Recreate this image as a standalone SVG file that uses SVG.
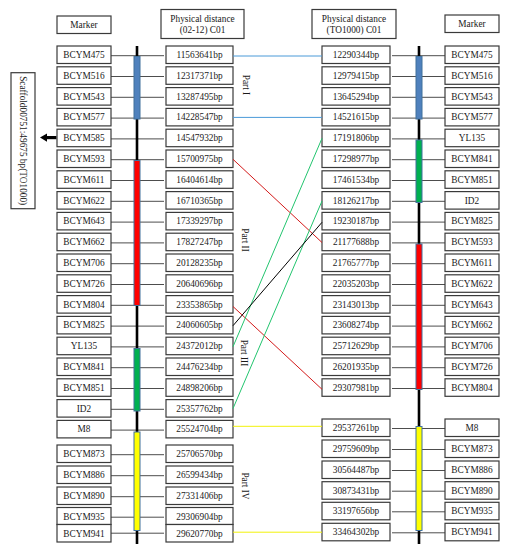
<svg xmlns="http://www.w3.org/2000/svg" width="509" height="550" viewBox="0 0 509 550">
<style>
.bx{fill:#fff;stroke:#3a3a3a;stroke-width:1.2}
.t{font-family:"Liberation Serif","Times New Roman",serif;font-size:9.3px;fill:#1a1a1a;text-anchor:middle}
.tick{stroke:#4d4d4d;stroke-width:1}
.chr{stroke:#000;stroke-width:2.6}
.seg{stroke:#41719C;stroke-width:1}
.c{fill:none;stroke-width:1}
</style>
<rect width="509" height="550" fill="#fff"/>

<g id="headers">
  <rect class="bx" x="57" y="16" width="54" height="17.5"/>
  <text class="t" x="84" y="27.9">Marker</text>
  <rect class="bx" x="161" y="9.5" width="83" height="29"/>
  <text class="t" x="202.5" y="21.5">Physical distance</text>
  <text class="t" x="202.5" y="32.5">(02-12) C01</text>
  <rect class="bx" x="312" y="9.5" width="84" height="29"/>
  <text class="t" x="354" y="21.5">Physical distance</text>
  <text class="t" x="354" y="32.5">(TO1000) C01</text>
  <rect class="bx" x="445" y="15" width="54" height="17.5"/>
  <text class="t" x="472" y="26.9">Marker</text>
</g>

<g id="scaffold">
  <rect class="bx" x="11" y="72.7" width="24" height="136"/>
  <text class="t" transform="translate(20,140.7) rotate(90)">Scaffold00751:49675 bp(TO1000)</text>
  <rect x="45" y="136" width="11.5" height="3.2" fill="#000"/>
  <polygon points="40,137.6 47,133.4 47,141.8" fill="#000"/>
</g>

<g id="left-ticks">
  <line class="tick" x1="111" y1="55.7" x2="164" y2="55.7"/>
  <line class="tick" x1="111" y1="76.5" x2="164" y2="76.5"/>
  <line class="tick" x1="111" y1="97.3" x2="164" y2="97.3"/>
  <line class="tick" x1="111" y1="118.1" x2="164" y2="118.1"/>
  <line class="tick" x1="111" y1="138.9" x2="164" y2="138.9"/>
  <line class="tick" x1="111" y1="159.7" x2="164" y2="159.7"/>
  <line class="tick" x1="111" y1="180.5" x2="164" y2="180.5"/>
  <line class="tick" x1="111" y1="201.3" x2="164" y2="201.3"/>
  <line class="tick" x1="111" y1="222.1" x2="164" y2="222.1"/>
  <line class="tick" x1="111" y1="242.9" x2="164" y2="242.9"/>
  <line class="tick" x1="111" y1="263.7" x2="164" y2="263.7"/>
  <line class="tick" x1="111" y1="284.5" x2="164" y2="284.5"/>
  <line class="tick" x1="111" y1="305.3" x2="164" y2="305.3"/>
  <line class="tick" x1="111" y1="326.1" x2="164" y2="326.1"/>
  <line class="tick" x1="111" y1="346.9" x2="164" y2="346.9"/>
  <line class="tick" x1="111" y1="367.7" x2="164" y2="367.7"/>
  <line class="tick" x1="111" y1="388.5" x2="164" y2="388.5"/>
  <line class="tick" x1="111" y1="409.3" x2="164" y2="409.3"/>
  <line class="tick" x1="111" y1="430.1" x2="164" y2="430.1"/>
  <line class="tick" x1="111" y1="454.7" x2="164" y2="454.7"/>
  <line class="tick" x1="111" y1="475.7" x2="164" y2="475.7"/>
  <line class="tick" x1="111" y1="496.7" x2="164" y2="496.7"/>
  <line class="tick" x1="111" y1="517.2" x2="164" y2="517.2"/>
  <line class="tick" x1="111" y1="533.2" x2="164" y2="533.2"/>
</g>

<g id="right-ticks">
  <line class="tick" x1="392" y1="55.7" x2="445" y2="55.7"/>
  <line class="tick" x1="392" y1="76.5" x2="445" y2="76.5"/>
  <line class="tick" x1="392" y1="97.3" x2="445" y2="97.3"/>
  <line class="tick" x1="392" y1="118.1" x2="445" y2="118.1"/>
  <line class="tick" x1="392" y1="138.9" x2="445" y2="138.9"/>
  <line class="tick" x1="392" y1="159.7" x2="445" y2="159.7"/>
  <line class="tick" x1="392" y1="180.5" x2="445" y2="180.5"/>
  <line class="tick" x1="392" y1="201.3" x2="445" y2="201.3"/>
  <line class="tick" x1="392" y1="222.1" x2="445" y2="222.1"/>
  <line class="tick" x1="392" y1="242.9" x2="445" y2="242.9"/>
  <line class="tick" x1="392" y1="263.7" x2="445" y2="263.7"/>
  <line class="tick" x1="392" y1="284.5" x2="445" y2="284.5"/>
  <line class="tick" x1="392" y1="305.3" x2="445" y2="305.3"/>
  <line class="tick" x1="392" y1="326.1" x2="445" y2="326.1"/>
  <line class="tick" x1="392" y1="346.9" x2="445" y2="346.9"/>
  <line class="tick" x1="392" y1="367.7" x2="445" y2="367.7"/>
  <line class="tick" x1="392" y1="388.5" x2="445" y2="388.5"/>
  <line class="tick" x1="392" y1="428.5" x2="445" y2="428.5"/>
  <line class="tick" x1="392" y1="449.5" x2="445" y2="449.5"/>
  <line class="tick" x1="392" y1="470.5" x2="445" y2="470.5"/>
  <line class="tick" x1="392" y1="491.2" x2="445" y2="491.2"/>
  <line class="tick" x1="392" y1="511.8" x2="445" y2="511.8"/>
  <line class="tick" x1="392" y1="532.8" x2="445" y2="532.8"/>
</g>

<g id="left-chromosome">
  <line class="chr" x1="137" y1="46" x2="137" y2="544"/>
  <rect class="seg" x="134" y="56.5" width="6" height="62.5" fill="#4F81BD"/>
  <rect class="seg" x="134" y="160.5" width="6" height="145" fill="#FF0000"/>
  <rect class="seg" x="134" y="348.5" width="6" height="62.5" fill="#00B050"/>
  <rect class="seg" x="134" y="432" width="6" height="98.5" fill="#FFFF00"/>
</g>

<g id="right-chromosome">
  <line class="chr" x1="419" y1="46" x2="419" y2="544"/>
  <rect class="seg" x="416" y="56.5" width="6" height="62.5" fill="#4F81BD"/>
  <rect class="seg" x="416" y="140" width="6" height="62.5" fill="#00B050"/>
  <rect class="seg" x="416" y="244" width="6" height="145.5" fill="#FF0000"/>
  <rect class="seg" x="416" y="426.5" width="6" height="104" fill="#FFFF00"/>
</g>

<g id="left-markers">
  <g id="lm-BCYM475"><rect class="bx" x="57" y="46" width="54" height="17.5"/><text class="t" x="84" y="58">BCYM475</text></g>
  <g id="lm-BCYM516"><rect class="bx" x="57" y="66.8" width="54" height="17.5"/><text class="t" x="84" y="78.8">BCYM516</text></g>
  <g id="lm-BCYM543"><rect class="bx" x="57" y="87.6" width="54" height="17.5"/><text class="t" x="84" y="99.6">BCYM543</text></g>
  <g id="lm-BCYM577"><rect class="bx" x="57" y="108.4" width="54" height="17.5"/><text class="t" x="84" y="120.4">BCYM577</text></g>
  <g id="lm-BCYM585"><rect class="bx" x="57" y="129.2" width="54" height="17.5"/><text class="t" x="84" y="141.2">BCYM585</text></g>
  <g id="lm-BCYM593"><rect class="bx" x="57" y="150" width="54" height="17.5"/><text class="t" x="84" y="162">BCYM593</text></g>
  <g id="lm-BCYM611"><rect class="bx" x="57" y="170.8" width="54" height="17.5"/><text class="t" x="84" y="182.8">BCYM611</text></g>
  <g id="lm-BCYM622"><rect class="bx" x="57" y="191.6" width="54" height="17.5"/><text class="t" x="84" y="203.6">BCYM622</text></g>
  <g id="lm-BCYM643"><rect class="bx" x="57" y="212.4" width="54" height="17.5"/><text class="t" x="84" y="224.4">BCYM643</text></g>
  <g id="lm-BCYM662"><rect class="bx" x="57" y="233.2" width="54" height="17.5"/><text class="t" x="84" y="245.2">BCYM662</text></g>
  <g id="lm-BCYM706"><rect class="bx" x="57" y="254" width="54" height="17.5"/><text class="t" x="84" y="266">BCYM706</text></g>
  <g id="lm-BCYM726"><rect class="bx" x="57" y="274.8" width="54" height="17.5"/><text class="t" x="84" y="286.8">BCYM726</text></g>
  <g id="lm-BCYM804"><rect class="bx" x="57" y="295.6" width="54" height="17.5"/><text class="t" x="84" y="307.6">BCYM804</text></g>
  <g id="lm-BCYM825"><rect class="bx" x="57" y="316.4" width="54" height="17.5"/><text class="t" x="84" y="328.4">BCYM825</text></g>
  <g id="lm-YL135"><rect class="bx" x="57" y="337.2" width="54" height="17.5"/><text class="t" x="84" y="349.2">YL135</text></g>
  <g id="lm-BCYM841"><rect class="bx" x="57" y="358" width="54" height="17.5"/><text class="t" x="84" y="370">BCYM841</text></g>
  <g id="lm-BCYM851"><rect class="bx" x="57" y="378.8" width="54" height="17.5"/><text class="t" x="84" y="390.8">BCYM851</text></g>
  <g id="lm-ID2"><rect class="bx" x="57" y="399.6" width="54" height="17.5"/><text class="t" x="84" y="411.6">ID2</text></g>
  <g id="lm-M8"><rect class="bx" x="57" y="420.4" width="54" height="17.5"/><text class="t" x="84" y="432.4">M8</text></g>
  <g id="lm-BCYM873"><rect class="bx" x="57" y="445" width="54" height="17.5"/><text class="t" x="84" y="457">BCYM873</text></g>
  <g id="lm-BCYM886"><rect class="bx" x="57" y="466" width="54" height="17.5"/><text class="t" x="84" y="478">BCYM886</text></g>
  <g id="lm-BCYM890"><rect class="bx" x="57" y="487" width="54" height="17.5"/><text class="t" x="84" y="499">BCYM890</text></g>
  <g id="lm-BCYM935"><rect class="bx" x="57" y="507.5" width="54" height="17"/><text class="t" x="84" y="519.5">BCYM935</text></g>
  <g id="lm-BCYM941"><rect class="bx" x="57" y="524.5" width="54" height="17.5"/><text class="t" x="84" y="536.5">BCYM941</text></g>
</g>

<g id="left-distances">
  <g id="ld-0"><rect class="bx" x="166" y="46" width="67" height="17.5"/><text class="t" x="199.5" y="58">11563641bp</text></g>
  <g id="ld-1"><rect class="bx" x="166" y="66.8" width="67" height="17.5"/><text class="t" x="199.5" y="78.8">12317371bp</text></g>
  <g id="ld-2"><rect class="bx" x="166" y="87.6" width="67" height="17.5"/><text class="t" x="199.5" y="99.6">13287495bp</text></g>
  <g id="ld-3"><rect class="bx" x="166" y="108.4" width="67" height="17.5"/><text class="t" x="199.5" y="120.4">14228547bp</text></g>
  <g id="ld-4"><rect class="bx" x="166" y="129.2" width="67" height="17.5"/><text class="t" x="199.5" y="141.2">14547932bp</text></g>
  <g id="ld-5"><rect class="bx" x="166" y="150" width="67" height="17.5"/><text class="t" x="199.5" y="162">15700975bp</text></g>
  <g id="ld-6"><rect class="bx" x="166" y="170.8" width="67" height="17.5"/><text class="t" x="199.5" y="182.8">16404614bp</text></g>
  <g id="ld-7"><rect class="bx" x="166" y="191.6" width="67" height="17.5"/><text class="t" x="199.5" y="203.6">16710365bp</text></g>
  <g id="ld-8"><rect class="bx" x="166" y="212.4" width="67" height="17.5"/><text class="t" x="199.5" y="224.4">17339297bp</text></g>
  <g id="ld-9"><rect class="bx" x="166" y="233.2" width="67" height="17.5"/><text class="t" x="199.5" y="245.2">17827247bp</text></g>
  <g id="ld-10"><rect class="bx" x="166" y="254" width="67" height="17.5"/><text class="t" x="199.5" y="266">20128235bp</text></g>
  <g id="ld-11"><rect class="bx" x="166" y="274.8" width="67" height="17.5"/><text class="t" x="199.5" y="286.8">20640696bp</text></g>
  <g id="ld-12"><rect class="bx" x="166" y="295.6" width="67" height="17.5"/><text class="t" x="199.5" y="307.6">23353865bp</text></g>
  <g id="ld-13"><rect class="bx" x="166" y="316.4" width="67" height="17.5"/><text class="t" x="199.5" y="328.4">24060605bp</text></g>
  <g id="ld-14"><rect class="bx" x="166" y="337.2" width="67" height="17.5"/><text class="t" x="199.5" y="349.2">24372012bp</text></g>
  <g id="ld-15"><rect class="bx" x="166" y="358" width="67" height="17.5"/><text class="t" x="199.5" y="370">24476234bp</text></g>
  <g id="ld-16"><rect class="bx" x="166" y="378.8" width="67" height="17.5"/><text class="t" x="199.5" y="390.8">24898206bp</text></g>
  <g id="ld-17"><rect class="bx" x="166" y="399.6" width="67" height="17.5"/><text class="t" x="199.5" y="411.6">25357762bp</text></g>
  <g id="ld-18"><rect class="bx" x="166" y="420.4" width="67" height="17.5"/><text class="t" x="199.5" y="432.4">25524704bp</text></g>
  <g id="ld-19"><rect class="bx" x="166" y="445" width="67" height="17.5"/><text class="t" x="199.5" y="457">25706570bp</text></g>
  <g id="ld-20"><rect class="bx" x="166" y="466" width="67" height="17.5"/><text class="t" x="199.5" y="478">26599434bp</text></g>
  <g id="ld-21"><rect class="bx" x="166" y="487" width="67" height="17.5"/><text class="t" x="199.5" y="499">27331406bp</text></g>
  <g id="ld-22"><rect class="bx" x="166" y="507.5" width="67" height="17"/><text class="t" x="199.5" y="519.5">29306904bp</text></g>
  <g id="ld-23"><rect class="bx" x="166" y="524.5" width="67" height="17.5"/><text class="t" x="199.5" y="536.5">29620770bp</text></g>
</g>

<g id="right-distances">
  <g id="rd-0"><rect class="bx" x="322" y="46" width="68" height="17.5"/><text class="t" x="356" y="58">12290344bp</text></g>
  <g id="rd-1"><rect class="bx" x="322" y="66.8" width="68" height="17.5"/><text class="t" x="356" y="78.8">12979415bp</text></g>
  <g id="rd-2"><rect class="bx" x="322" y="87.6" width="68" height="17.5"/><text class="t" x="356" y="99.6">13645294bp</text></g>
  <g id="rd-3"><rect class="bx" x="322" y="108.4" width="68" height="17.5"/><text class="t" x="356" y="120.4">14521615bp</text></g>
  <g id="rd-4"><rect class="bx" x="322" y="129.2" width="68" height="17.5"/><text class="t" x="356" y="141.2">17191806bp</text></g>
  <g id="rd-5"><rect class="bx" x="322" y="150" width="68" height="17.5"/><text class="t" x="356" y="162">17298977bp</text></g>
  <g id="rd-6"><rect class="bx" x="322" y="170.8" width="68" height="17.5"/><text class="t" x="356" y="182.8">17461534bp</text></g>
  <g id="rd-7"><rect class="bx" x="322" y="191.6" width="68" height="17.5"/><text class="t" x="356" y="203.6">18126217bp</text></g>
  <g id="rd-8"><rect class="bx" x="322" y="212.4" width="68" height="17.5"/><text class="t" x="356" y="224.4">19230187bp</text></g>
  <g id="rd-9"><rect class="bx" x="322" y="233.2" width="68" height="17.5"/><text class="t" x="356" y="245.2">21177688bp</text></g>
  <g id="rd-10"><rect class="bx" x="322" y="254" width="68" height="17.5"/><text class="t" x="356" y="266">21765777bp</text></g>
  <g id="rd-11"><rect class="bx" x="322" y="274.8" width="68" height="17.5"/><text class="t" x="356" y="286.8">22035203bp</text></g>
  <g id="rd-12"><rect class="bx" x="322" y="295.6" width="68" height="17.5"/><text class="t" x="356" y="307.6">23143013bp</text></g>
  <g id="rd-13"><rect class="bx" x="322" y="316.4" width="68" height="17.5"/><text class="t" x="356" y="328.4">23608274bp</text></g>
  <g id="rd-14"><rect class="bx" x="322" y="337.2" width="68" height="17.5"/><text class="t" x="356" y="349.2">25712629bp</text></g>
  <g id="rd-15"><rect class="bx" x="322" y="358" width="68" height="17.5"/><text class="t" x="356" y="370">26201935bp</text></g>
  <g id="rd-16"><rect class="bx" x="322" y="378.8" width="68" height="17.5"/><text class="t" x="356" y="390.8">29307981bp</text></g>
  <g id="rd-17"><rect class="bx" x="322" y="419" width="68" height="17.5"/><text class="t" x="356" y="431">29537261bp</text></g>
  <g id="rd-18"><rect class="bx" x="322" y="440" width="68" height="17.5"/><text class="t" x="356" y="452">29759609bp</text></g>
  <g id="rd-19"><rect class="bx" x="322" y="461" width="68" height="17.5"/><text class="t" x="356" y="473">30564487bp</text></g>
  <g id="rd-20"><rect class="bx" x="322" y="481.7" width="68" height="17.5"/><text class="t" x="356" y="493.7">30873431bp</text></g>
  <g id="rd-21"><rect class="bx" x="322" y="502.3" width="68" height="17.5"/><text class="t" x="356" y="514.3">33197656bp</text></g>
  <g id="rd-22"><rect class="bx" x="322" y="523.3" width="68" height="17.5"/><text class="t" x="356" y="535.3">33464302bp</text></g>
</g>

<g id="right-markers">
  <g id="rm-BCYM475"><rect class="bx" x="445" y="46" width="54" height="17.5"/><text class="t" x="472" y="58">BCYM475</text></g>
  <g id="rm-BCYM516"><rect class="bx" x="445" y="66.8" width="54" height="17.5"/><text class="t" x="472" y="78.8">BCYM516</text></g>
  <g id="rm-BCYM543"><rect class="bx" x="445" y="87.6" width="54" height="17.5"/><text class="t" x="472" y="99.6">BCYM543</text></g>
  <g id="rm-BCYM577"><rect class="bx" x="445" y="108.4" width="54" height="17.5"/><text class="t" x="472" y="120.4">BCYM577</text></g>
  <g id="rm-YL135"><rect class="bx" x="445" y="129.2" width="54" height="17.5"/><text class="t" x="472" y="141.2">YL135</text></g>
  <g id="rm-BCYM841"><rect class="bx" x="445" y="150" width="54" height="17.5"/><text class="t" x="472" y="162">BCYM841</text></g>
  <g id="rm-BCYM851"><rect class="bx" x="445" y="170.8" width="54" height="17.5"/><text class="t" x="472" y="182.8">BCYM851</text></g>
  <g id="rm-ID2"><rect class="bx" x="445" y="191.6" width="54" height="17.5"/><text class="t" x="472" y="203.6">ID2</text></g>
  <g id="rm-BCYM825"><rect class="bx" x="445" y="212.4" width="54" height="17.5"/><text class="t" x="472" y="224.4">BCYM825</text></g>
  <g id="rm-BCYM593"><rect class="bx" x="445" y="233.2" width="54" height="17.5"/><text class="t" x="472" y="245.2">BCYM593</text></g>
  <g id="rm-BCYM611"><rect class="bx" x="445" y="254" width="54" height="17.5"/><text class="t" x="472" y="266">BCYM611</text></g>
  <g id="rm-BCYM622"><rect class="bx" x="445" y="274.8" width="54" height="17.5"/><text class="t" x="472" y="286.8">BCYM622</text></g>
  <g id="rm-BCYM643"><rect class="bx" x="445" y="295.6" width="54" height="17.5"/><text class="t" x="472" y="307.6">BCYM643</text></g>
  <g id="rm-BCYM662"><rect class="bx" x="445" y="316.4" width="54" height="17.5"/><text class="t" x="472" y="328.4">BCYM662</text></g>
  <g id="rm-BCYM706"><rect class="bx" x="445" y="337.2" width="54" height="17.5"/><text class="t" x="472" y="349.2">BCYM706</text></g>
  <g id="rm-BCYM726"><rect class="bx" x="445" y="358" width="54" height="17.5"/><text class="t" x="472" y="370">BCYM726</text></g>
  <g id="rm-BCYM804"><rect class="bx" x="445" y="378.8" width="54" height="17.5"/><text class="t" x="472" y="390.8">BCYM804</text></g>
  <g id="rm-M8"><rect class="bx" x="445" y="419" width="54" height="17.5"/><text class="t" x="472" y="431">M8</text></g>
  <g id="rm-BCYM873"><rect class="bx" x="445" y="440" width="54" height="17.5"/><text class="t" x="472" y="452">BCYM873</text></g>
  <g id="rm-BCYM886"><rect class="bx" x="445" y="461" width="54" height="17.5"/><text class="t" x="472" y="473">BCYM886</text></g>
  <g id="rm-BCYM890"><rect class="bx" x="445" y="481.7" width="54" height="17.5"/><text class="t" x="472" y="493.7">BCYM890</text></g>
  <g id="rm-BCYM935"><rect class="bx" x="445" y="502.3" width="54" height="17.5"/><text class="t" x="472" y="514.3">BCYM935</text></g>
  <g id="rm-BCYM941"><rect class="bx" x="445" y="523.3" width="54" height="17.5"/><text class="t" x="472" y="535.3">BCYM941</text></g>
</g>

<g id="part-labels">
  <text class="t" transform="translate(242.5,85) rotate(90)">Part I</text>
  <text class="t" transform="translate(242,240) rotate(90)">Part II</text>
  <text class="t" transform="translate(241,353) rotate(90)">Part III</text>
  <text class="t" transform="translate(242,486) rotate(90)">Part IV</text>
</g>

<g id="connectors">
  <line class="c" stroke="#4A9AD8" x1="233" y1="56" x2="322" y2="56"/>
  <line class="c" stroke="#4A9AD8" x1="233" y1="117.4" x2="322" y2="117.4"/>
  <line class="c" stroke="#D41A1A" x1="233" y1="159.3" x2="322" y2="242.5"/>
  <line class="c" stroke="#D41A1A" x1="233" y1="306.5" x2="322" y2="389.3"/>
  <line class="c" stroke="#22C46E" x1="233" y1="346.7" x2="322" y2="138.3"/>
  <line class="c" stroke="#22C46E" x1="233" y1="408.5" x2="322" y2="201"/>
  <line class="c" stroke="#000000" x1="233" y1="325.7" x2="322" y2="222.3"/>
  <line class="c" stroke="#F2F20A" stroke-width="1.3" x1="233" y1="426.3" x2="322" y2="426.3"/>
  <line class="c" stroke="#F2F20A" stroke-width="1.3" x1="233" y1="532.2" x2="322" y2="532.2"/>
</g>
</svg>
